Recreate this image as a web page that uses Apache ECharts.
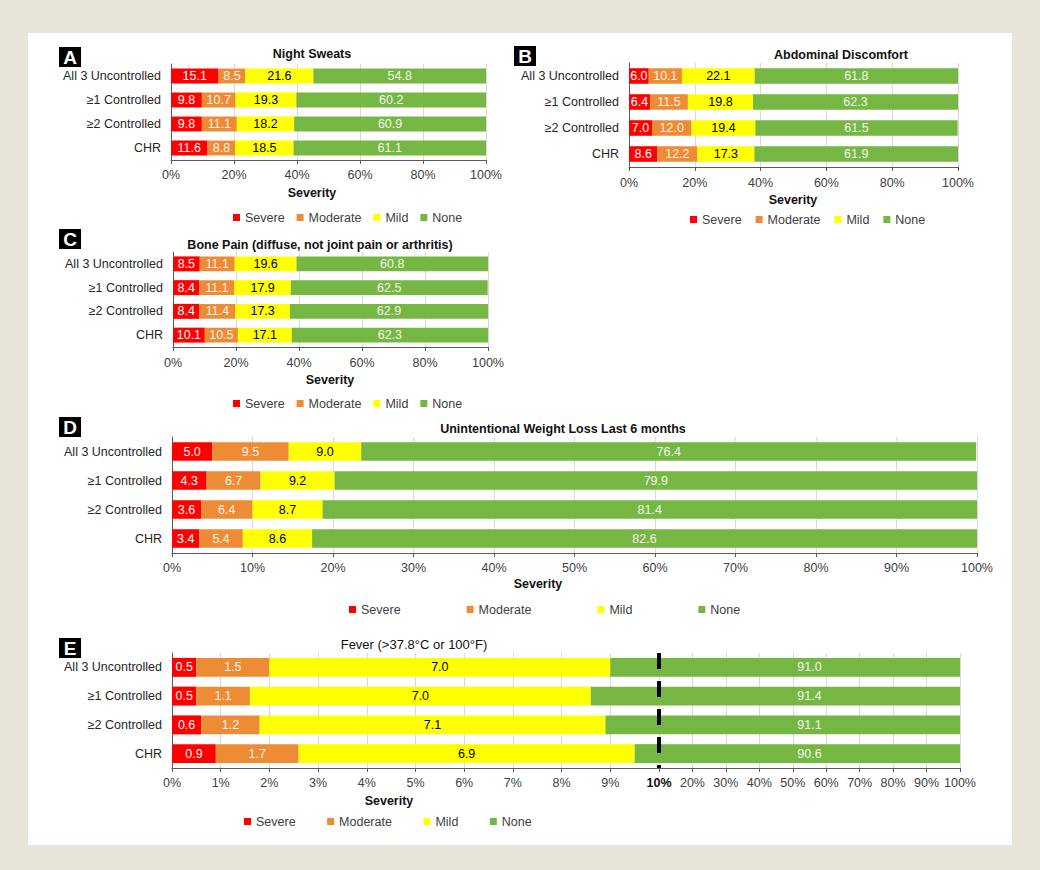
<!DOCTYPE html>
<html>
<head>
<meta charset="utf-8">
<script src="https://cdn.jsdelivr.net/npm/echarts@6/dist/echarts.min.js"></script>
<style>
  body { margin: 0; background: #e8e4d9; }
  #sheet { position: absolute; left: 28px; top: 33px; width: 984px; height: 812px; background: #fff; }
  #main { position: absolute; left: 0; top: 0; width: 1040px; height: 870px; }
</style>
</head>
<body>
<div id="sheet"></div>
<div id="main"></div>
<script>
(function() {
    // groups shown on every panel (top to bottom)
    var categories = ['All 3 Uncontrolled', '≥1 Controlled', '≥2 Controlled', 'CHR'];
    var levels = ['Severe', 'Moderate', 'Mild', 'None'];

    // values per level: [Severe, Moderate, Mild, None], one entry per group
    var nightSweats = [
        [15.1, 9.8, 9.8, 11.6],
        [8.5, 10.7, 11.1, 8.8],
        [21.6, 19.3, 18.2, 18.5],
        [54.8, 60.2, 60.9, 61.1]
    ];
    var abdominal = [
        [6.0, 6.4, 7.0, 8.6],
        [10.1, 11.5, 12.0, 12.2],
        [22.1, 19.8, 19.4, 17.3],
        [61.8, 62.3, 61.5, 61.9]
    ];
    var bonePain = [
        [8.5, 8.4, 8.4, 10.1],
        [11.1, 11.1, 11.4, 10.5],
        [19.6, 17.9, 17.3, 17.1],
        [60.8, 62.5, 62.9, 62.3]
    ];
    var weightLoss = [
        [5.0, 4.3, 3.6, 3.4],
        [9.5, 6.7, 6.4, 5.4],
        [9.0, 9.2, 8.7, 8.6],
        [76.4, 79.9, 81.4, 82.6]
    ];
    var fever = [
        [0.5, 0.5, 0.6, 0.9],
        [1.5, 1.1, 1.2, 1.7],
        [7.0, 7.0, 7.1, 6.9],
        [91.0, 91.4, 91.1, 90.6]
    ];

    var colors = ['#ff0000', '#ee8b35', '#ffff00', '#76b743'];
    var labelColors = ['#ffffff', '#fbf3ea', '#000000', '#f2f7ec'];
    var font = '"Liberation Sans", Arial, sans-serif';

    var chartDom = document.getElementById('main');
    var myChart = echarts.init(chartDom, null, { renderer: 'svg' });

    var grids = [
        { left: 171, top: 64, width: 315, height: 96 },
        { left: 629, top: 63, width: 329, height: 104 },
        { left: 173, top: 252, width: 315, height: 95 },
        { left: 172, top: 437, width: 805, height: 116 },
        { left: 172, top: 653, width: 487, height: 115 },
        { left: 659, top: 653, width: 301, height: 115 }
    ];
    grids.forEach(function(g) { g.outerBoundsMode = 'none'; });

    function xAxis(idx, min, max, interval, extra) {
        var ax = {
            type: 'value', gridIndex: idx, min: min, max: max, interval: interval,
            axisLine: { show: true, lineStyle: { color: '#595959', width: 1 } },
            axisTick: { show: true, length: 4, lineStyle: { color: '#595959' } },
            splitLine: { show: true, lineStyle: { color: '#d9d9d9', width: 1 } },
            axisLabel: { formatter: '{value}%', color: '#404040', fontSize: 12.5, fontFamily: font, margin: 8 }
        };
        return Object.assign(ax, extra || {});
    }

    function yAxis(idx, show) {
        return {
            type: 'category', gridIndex: idx, data: categories, inverse: true,
            axisLine: { show: show, lineStyle: { color: '#595959' } },
            axisTick: { show: false },
            axisLabel: { show: show, color: '#262626', fontSize: 12.5, fontFamily: font, margin: 10 }
        };
    }

    function stackSeries(idx, values, stack, gap, noneLabel) {
        return levels.map(function(lv, i) {
            return {
                name: lv, type: 'bar', stack: stack,
                xAxisIndex: idx, yAxisIndex: idx,
                barCategoryGap: gap,
                data: values[i],
                itemStyle: { color: colors[i] },
                label: {
                    show: i < 3 || noneLabel, position: 'inside',
                    color: labelColors[i], fontSize: 12.5, fontFamily: font,
                    formatter: function(p) { return p.value.toFixed(1); }
                },
                emphasis: { disabled: true }
            };
        });
    }

    var series = [].concat(
        stackSeries(0, nightSweats, 'A', '38%', true),
        stackSeries(1, abdominal, 'B', '40%', true),
        stackSeries(2, bonePain, 'C', '37%', true),
        stackSeries(3, weightLoss, 'D', '36%', true),
        stackSeries(4, fever, 'E', '34%', false)
    );

    // right part of the broken axis in panel E: lower levels stacked invisibly, None visible
    levels.forEach(function(lv, i) {
        var s = {
            name: i < 3 ? 'base' : lv, type: 'bar', stack: 'E2',
            xAxisIndex: 5, yAxisIndex: 5,
            barCategoryGap: '34%',
            data: fever[i],
            itemStyle: { color: i < 3 ? 'rgba(0,0,0,0)' : colors[i] },
            label: {
                show: i === 3, position: 'inside',
                color: labelColors[i], fontSize: 12.5, fontFamily: font,
                formatter: function(p) { return p.value.toFixed(1); }
            },
            silent: i < 3,
            emphasis: { disabled: true }
        };
        if (i === 3) {
            s.markLine = {
                silent: true, symbol: 'none',
                label: { show: false },
                lineStyle: { color: '#000', width: 4, type: [16, 12] },
                data: [{ xAxis: 10 }]
            };
        }
        series.push(s);
    });

    function legend(left, top, gap) {
        return {
            data: levels, left: left, top: top, itemGap: gap, padding: 0,
            itemWidth: 7, itemHeight: 7, icon: 'rect', selectedMode: false,
            textStyle: { color: '#404040', fontSize: 12.5, fontFamily: font }
        };
    }

    function text(x, y, str, bold) {
        return {
            type: 'text', x: x, y: y, silent: true,
            style: {
                text: str, fill: '#111',
                font: (bold ? 'bold 12.5px ' : '13px ') + font,
                textAlign: 'center', textVerticalAlign: 'middle',
                align: 'center', verticalAlign: 'middle'
            }
        };
    }

    function letter(x, y, str) {
        return {
            type: 'group', x: x, y: y, silent: true,
            children: [
                { type: 'rect', shape: { x: 0, y: 0, width: 22, height: 20 }, style: { fill: '#000' } },
                {
                    type: 'text', x: 11, y: 10.5,
                    style: {
                        text: str, fill: '#fff', font: 'bold 19px ' + font,
                        textAlign: 'center', textVerticalAlign: 'middle',
                        align: 'center', verticalAlign: 'middle'
                    }
                }
            ]
        };
    }

    option = {
        backgroundColor: 'transparent',
        animation: false,
        grid: grids,
        xAxis: [
            xAxis(0, 0, 100, 20),
            xAxis(1, 0, 100, 20, { axisLabel: { formatter: '{value}%', color: '#404040', fontSize: 12.5, fontFamily: font, margin: 9 } }),
            xAxis(2, 0, 100, 20, { axisLabel: { formatter: '{value}%', color: '#404040', fontSize: 12.5, fontFamily: font, margin: 9 } }),
            xAxis(3, 0, 100, 10),
            xAxis(4, 0, 10, 1, {
                axisLabel: {
                    color: '#404040', fontSize: 12.5, fontFamily: font, margin: 8,
                    formatter: function(v) { return v === 10 ? '{b|10%}' : v + '%'; },
                    rich: { b: { fontWeight: 'bold', color: '#111', fontSize: 12.5, fontFamily: font } }
                }
            }),
            xAxis(5, 10, 100, 10, {
                axisLabel: { formatter: '{value}%', color: '#404040', fontSize: 12.5, fontFamily: font, margin: 8, showMinLabel: false }
            })
        ],
        yAxis: [yAxis(0, true), yAxis(1, true), yAxis(2, true), yAxis(3, true), yAxis(4, true), yAxis(5, false)],
        legend: [
            legend(233, 211, 12),
            legend(690, 213, 14),
            legend(233, 397, 12),
            legend(349, 603, 66),
            legend(244, 815, 31.5)
        ],
        graphic: [
            letter(59, 47, 'A'),
            letter(514, 46, 'B'),
            letter(59, 229, 'C'),
            letter(59, 417, 'D'),
            letter(59, 638, 'E'),
            text(312, 54, 'Night Sweats', true),
            text(841, 55, 'Abdominal Discomfort', true),
            text(320, 245, 'Bone Pain (diffuse, not joint pain or arthritis)', true),
            text(563, 429, 'Unintentional Weight Loss Last 6 months', true),
            text(414, 644, 'Fever (>37.8°C or 100°F)', false),
            text(312, 193, 'Severity', true),
            text(793, 200, 'Severity', true),
            text(330, 380, 'Severity', true),
            text(538, 584, 'Severity', true),
            text(389, 801, 'Severity', true)
        ],
        series: series
    };

    myChart.setOption(option);

    window.addEventListener("resize", function() {
        myChart.resize();
    });
})();
</script>
</body>
</html>
